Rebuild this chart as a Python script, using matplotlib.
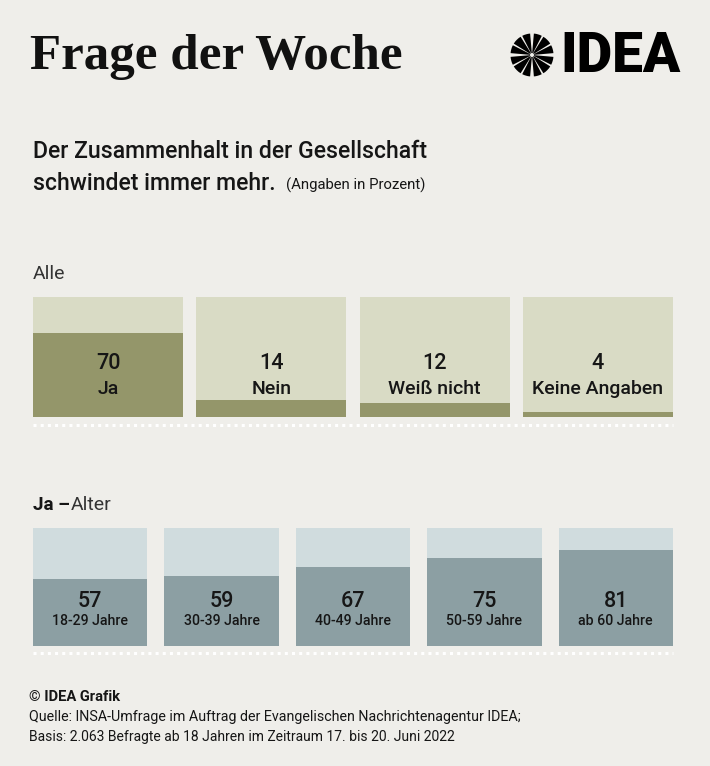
#!/usr/bin/env python3
"""Frage der Woche: Zusammenhalt in der Gesellschaft (INSA / IDEA)."""
import numpy as np
import matplotlib
matplotlib.use("Agg")
import matplotlib.pyplot as plt
from matplotlib.patches import Wedge

W, H = 710, 766
BG = "#efeeea"
INK = "#161616"
FONT = "Roboto"

ALL_LABELS = ["Ja", "Nein", "Weiß nicht", "Keine Angaben"]
ALL_VALUES = [70, 14, 12, 4]
AGE_LABELS = ["18-29 Jahre", "30-39 Jahre", "40-49 Jahre", "50-59 Jahre", "ab 60 Jahre"]
AGE_VALUES = [57, 59, 67, 75, 81]


def px_axes(fig, left, top, right, bottom):
    """axes placed by pixel box, y measured from the top of the picture"""
    ax = fig.add_axes([left / W, 1 - bottom / H, (right - left) / W, (bottom - top) / H])
    ax.axis("off")
    return ax


def panel(fig, box, labels, values, width, light, dark, num_y, lab_y, num_fs, lab_fs, rule_y):
    ax = px_axes(fig, *box)
    x = np.arange(len(values))
    ax.bar(x, [100] * len(values), width=width, color=light, linewidth=0)
    ax.bar(x, values, width=width, color=dark, linewidth=0)
    ax.set_xlim(-width / 2, len(values) - 1 + width / 2)
    ax.set_ylim(0, 100)
    for xi, v, lab in zip(x, values, labels):
        ax.text(xi, num_y, str(v), ha="center", va="center", fontsize=num_fs,
                fontweight="medium", color=INK, family=FONT)
        ax.text(xi, lab_y, lab, ha="center", va="center", fontsize=lab_fs,
                fontweight="medium", color=INK, family=FONT)
    # white dotted rule under the panel
    ax.plot([0, 1], [rule_y, rule_y], transform=ax.get_yaxis_transform(), clip_on=False,
            color="white", lw=2.2, ls=(0, (1, 1.35)))


fig = plt.figure(figsize=(W / 100, H / 100), dpi=100, facecolor=BG)

panel(fig, (33, 297, 673, 417), ALL_LABELS, ALL_VALUES, 0.92,
      "#d9dbc5", "#94966a", 44.5, 23, 15.5, 14, -6.8)
panel(fig, (33, 528, 673, 646), AGE_LABELS, AGE_VALUES, 0.871,
      "#d0dcde", "#8c9fa3", 37.5, 21, 15.5, 10.2, -6.0)

# overlay in picture pixels for headline, notes and logo
ov = fig.add_axes([0, 0, 1, 1], facecolor="none")
ov.set_xlim(0, W)
ov.set_ylim(H, 0)
ov.axis("off")

ov.text(30, 57, "Frage der Woche", fontsize=36.7, fontweight="bold", family="Liberation Serif",
        color="#111111", va="center", ha="left")

ov.text(33, 151, "Der Zusammenhalt in der Gesellschaft", fontsize=16.6, fontweight="medium",
        family=FONT, color=INK, va="center")
ov.text(33, 184, "schwindet immer mehr.", fontsize=16.6, fontweight="medium",
        family=FONT, color=INK, va="center")
ov.text(286, 185, "(Angaben in Prozent)", fontsize=10.7, family=FONT, color=INK, va="center")

ov.text(33, 274, "Alle", fontsize=14, family=FONT, color="#333333", va="center")
ov.text(33, 505, "Ja –", fontsize=13.5, fontweight="bold", family=FONT, color=INK, va="center")
ov.text(71, 505, "Alter", fontsize=14, family=FONT, color="#333333", va="center")

ov.text(29, 697, "© IDEA Grafik", fontsize=10.6, fontweight="bold", family=FONT, color=INK, va="center")
ov.text(29, 717, "Quelle: INSA-Umfrage im Auftrag der Evangelischen Nachrichtenagentur IDEA;",
        fontsize=10.25, family=FONT, color=INK, va="center")
ov.text(29, 737, "Basis: 2.063 Befragte ab 18 Jahren im Zeitraum 17. bis 20. Juni 2022",
        fontsize=10, family=FONT, color=INK, va="center")

# logo: split disc with a white cross and radial slits
cx, cy, r = 532, 55, 21.5
for a0 in (0, 90, 180, 270):
    for s, e in ((5, 27), (32, 58), (63, 85)):
        ov.add_patch(Wedge((cx, cy), r, a0 + s, a0 + e, width=r - 2, color="black", lw=0))
ov.text(560, 57, "IDEA", fontsize=39.5, fontweight="black", family=FONT, color="black",
        va="center", ha="left")

fig.savefig("out.png", dpi=100, facecolor=BG)
